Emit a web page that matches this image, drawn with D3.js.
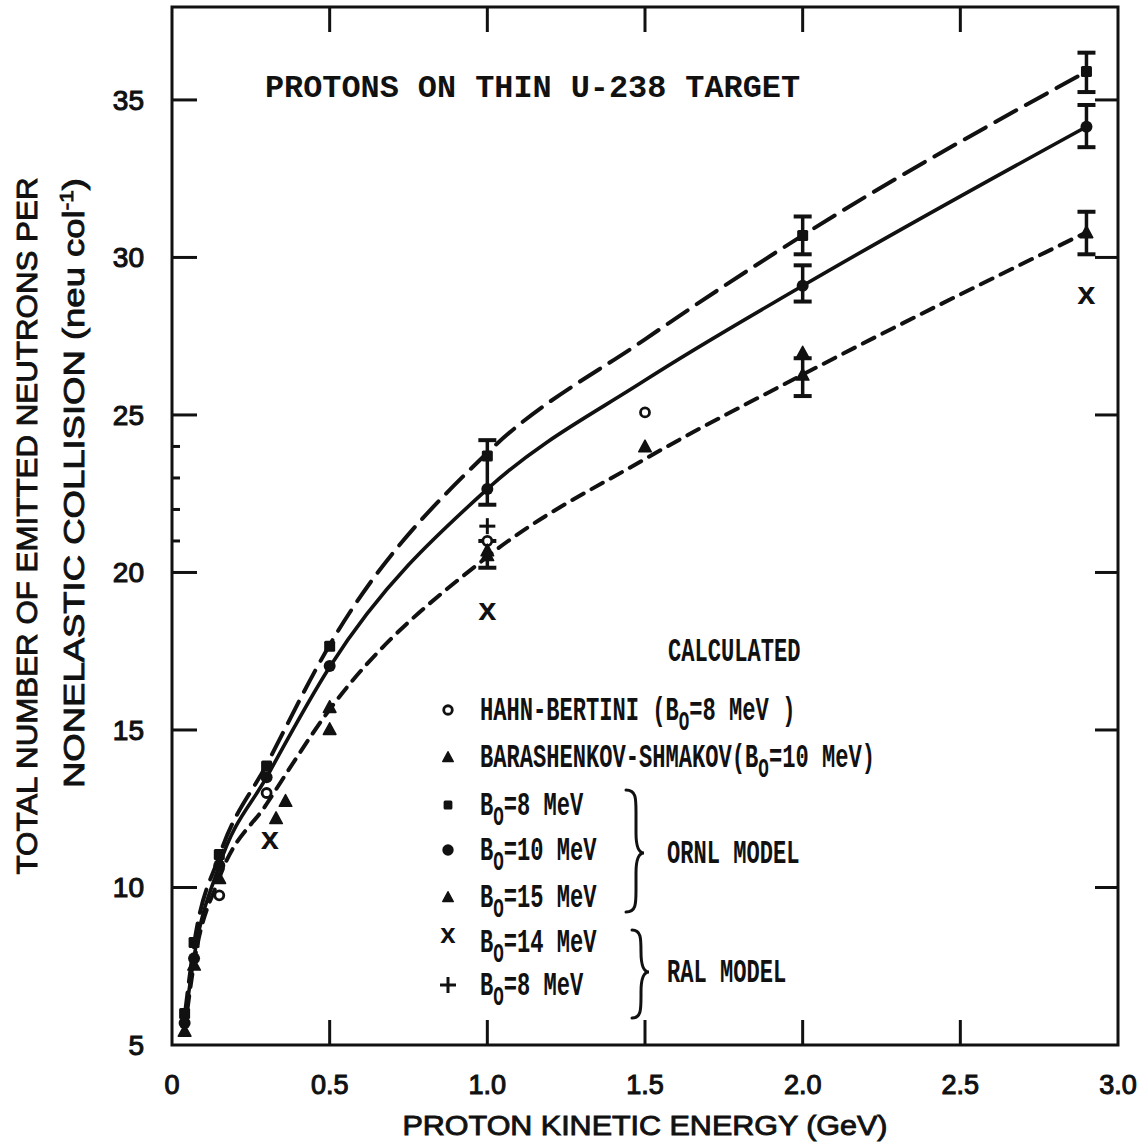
<!DOCTYPE html>
<html><head><meta charset="utf-8">
<script src="https://cdn.jsdelivr.net/npm/d3@7"></script>
<style>body{margin:0;background:#fff}</style>
</head><body><svg id="c" width="1148" height="1142"></svg>
<script>
// ---- data ----
const xTicks = [0, 0.5, 1.0, 1.5, 2.0, 2.5, 3.0];
const xTickLabels = ["0", "0.5", "1.0", "1.5", "2.0", "2.5", "3.0"];
const yTicks = [5, 10, 15, 20, 25, 30, 35];
const yTickLabels = ["5", "10", "15", "20", "25", "30", "35"];
const yMinorTicks = [21, 22, 23, 24];

const curveEnergy = [0.04, 0.07, 0.15, 0.3, 0.5, 1.0, 1.5, 2.0, 2.9];
const ornlB8Curve  = [5.9, 8.2, 11.0, 13.9, 17.7, 23.8, 27.4, 30.7, 35.9];
const ornlB10Curve = [5.7, 7.8, 10.7, 13.5, 17.0, 22.65, 26.1, 29.1, 34.15];
const ornlB15Curve = [5.45, 7.6, 10.3, 12.65, 15.65, 20.5, 23.6, 26.28, 30.8];

const ornlB8Points  = [[0.04, 6.0], [0.07, 8.25], [0.15, 11.05], [0.3, 13.86], [0.5, 17.66], [1.0, 23.7], [2.0, 30.7], [2.9, 35.9]];
const ornlB10Points = [[0.04, 5.7], [0.07, 7.75], [0.15, 10.7], [0.3, 13.5], [0.5, 17.03], [1.0, 22.65], [2.0, 29.1], [2.9, 34.15]];
const ornlB15Points = [[0.04, 5.45], [0.07, 7.55], [0.15, 10.3], [0.33, 12.2], [0.5, 15.73], [1.0, 20.55], [2.0, 26.28], [2.9, 30.8]];
const hahnBertiniPoints = [[0.15, 9.75], [0.3, 13.0], [1.0, 21.0], [1.5, 25.08]];
const barashenkovPoints = [[0.36, 12.75], [0.5, 15.03], [1.0, 20.7], [1.5, 24.0], [2.0, 26.98]];
const ralB14Points = [[0.31, 11.45], [1.0, 18.7], [2.9, 28.76]];
const ralB8Points = [[1.0, 21.47]];

const errorBars = [[1.0, 22.15, 24.2], [1.0, 20.15, 21.0], [2.0, 30.1, 31.3], [2.0, 28.6, 29.75], [2.0, 25.6, 26.8], [2.9, 35.25, 36.5], [2.9, 33.5, 34.84], [2.9, 30.1, 31.45]];

const titleText = "PROTONS ON THIN U-238 TARGET";
const xTitle = "PROTON KINETIC ENERGY (GeV)";
const yTitle1 = "TOTAL NUMBER OF EMITTED NEUTRONS PER";
const yTitle2a = "NONELASTIC COLLISION (neu col";
const yTitle2sup = "-1";
const legendHeader = "CALCULATED";
const legendRows = [
  {marker: "open", pre: "HAHN-BERTINI (B", sub: "O", post: "=8 MeV )"},
  {marker: "tri", pre: "BARASHENKOV-SHMAKOV(B", sub: "O", post: "=10 MeV)"},
  {marker: "square", pre: "B", sub: "O", post: "=8 MeV"},
  {marker: "dot", pre: "B", sub: "O", post: "=10 MeV"},
  {marker: "tri", pre: "B", sub: "O", post: "=15 MeV"},
  {marker: "x", pre: "B", sub: "O", post: "=14 MeV"},
  {marker: "plus", pre: "B", sub: "O", post: "=8 MeV"}
];
const groupLabels = ["ORNL MODEL", "RAL MODEL"];

// ---- drawing ----
const svg = d3.select("#c");
const x = d3.scaleLinear().domain([0, 3]).range([172, 1118]);
const y = d3.scaleLinear().domain([5, 37.95]).range([1045, 7]);
const ink = "#111";
const sans = "'Liberation Sans', Arial, sans-serif";
const mono = "'Liberation Mono', 'Courier New', monospace";

// frame
svg.append("rect").attr("x", x(0)).attr("y", y(37.95))
  .attr("width", x(3) - x(0)).attr("height", y(5) - y(37.95))
  .attr("fill", "none").attr("stroke", ink).attr("stroke-width", 3);

// ticks (inward)
const inner = xTicks.filter(d => d > 0 && d < 3);
const innerY = yTicks.filter(d => d > 5);
const tk = svg.append("g").attr("stroke", ink).attr("stroke-width", 3);
inner.forEach(d => {
  tk.append("line").attr("x1", x(d)).attr("x2", x(d)).attr("y1", y(5)).attr("y2", y(5) - 25);
  tk.append("line").attr("x1", x(d)).attr("x2", x(d)).attr("y1", y(37.95)).attr("y2", y(37.95) + 25);
});
innerY.forEach(d => {
  tk.append("line").attr("x1", x(0)).attr("x2", x(0) + 25).attr("y1", y(d)).attr("y2", y(d));
  tk.append("line").attr("x1", x(3)).attr("x2", x(3) - 23).attr("y1", y(d)).attr("y2", y(d));
});
yMinorTicks.forEach(d => {
  tk.append("line").attr("x1", x(0)).attr("x2", x(0) + 8).attr("y1", y(d)).attr("y2", y(d));
});

// tick labels
svg.append("g").selectAll("text").data(xTicks).join("text")
  .attr("x", d => x(d)).attr("y", 1094).attr("text-anchor", "middle")
  .attr("font-family", sans).attr("font-size", 27).attr("fill", ink)
  .attr("stroke", ink).attr("stroke-width", 1.1)
  .text((d, i) => xTickLabels[i]);
svg.append("g").selectAll("text").data(yTicks).join("text")
  .attr("x", 144).attr("y", d => y(d) + 10).attr("text-anchor", "end")
  .attr("font-family", sans).attr("font-size", 28).attr("fill", ink)
  .attr("stroke", ink).attr("stroke-width", 1.1)
  .text((d, i) => yTickLabels[i]);

// axis titles
svg.append("text").attr("x", 645).attr("y", 1135).attr("text-anchor", "middle")
  .attr("font-family", sans).attr("font-size", 27).attr("fill", ink)
  .attr("stroke", ink).attr("stroke-width", 0.9)
  .attr("textLength", 485).attr("lengthAdjust", "spacingAndGlyphs").text(xTitle);
svg.append("text").attr("transform", "translate(37,526) rotate(-90)").attr("text-anchor", "middle")
  .attr("font-family", sans).attr("font-size", 29).attr("fill", ink)
  .attr("stroke", ink).attr("stroke-width", 0.9)
  .attr("textLength", 697).attr("lengthAdjust", "spacingAndGlyphs").text(yTitle1);
const yt2 = svg.append("text").attr("transform", "translate(84,483) rotate(-90)").attr("text-anchor", "middle")
  .attr("font-family", sans).attr("font-size", 29).attr("fill", ink)
  .attr("stroke", ink).attr("stroke-width", 0.9)
  .attr("textLength", 610).attr("lengthAdjust", "spacingAndGlyphs");
yt2.append("tspan").text(yTitle2a);
yt2.append("tspan").attr("font-size", 18).attr("dy", -11).text(yTitle2sup);
yt2.append("tspan").attr("dy", 11).text(")");

// title
svg.append("text").attr("x", 265).attr("y", 97)
  .attr("font-family", mono).attr("font-weight", "bold").attr("font-size", 32).attr("fill", ink)
  .attr("textLength", 535).attr("lengthAdjust", "spacingAndGlyphs").text(titleText);

// curves
const line = d3.line().x(d => x(d[0])).y(d => y(d[1])).curve(d3.curveMonotoneX);
const curves = [
  {vals: ornlB8Curve, dash: "24,11", w: 4},
  {vals: ornlB10Curve, dash: null, w: 3.6},
  {vals: ornlB15Curve, dash: "13,9", w: 4}
];
curves.forEach(c => {
  svg.append("path").datum(curveEnergy.map((e, i) => [e, c.vals[i]]))
    .attr("d", line).attr("fill", "none").attr("stroke", ink)
    .attr("stroke-width", c.w).attr("stroke-dasharray", c.dash).attr("stroke-linecap", "round");
});

// error bars
const eb = svg.append("g").attr("stroke", ink).attr("stroke-width", 4);
errorBars.forEach(([e, lo, hi]) => {
  eb.append("line").attr("x1", x(e)).attr("x2", x(e)).attr("y1", y(lo)).attr("y2", y(hi)).attr("stroke-width", 3.5);
  [lo, hi].forEach(v => eb.append("line").attr("x1", x(e) - 9).attr("x2", x(e) + 9).attr("y1", y(v)).attr("y2", y(v)));
});

// markers
function marker(g, type, cx, cy, s) {
  s = s || 1;
  if (type === "square") g.append("rect").attr("x", cx - 5.5 * s).attr("y", cy - 5.5 * s).attr("width", 11 * s).attr("height", 11 * s).attr("rx", 1.5).attr("fill", ink);
  else if (type === "dot") g.append("circle").attr("cx", cx).attr("cy", cy).attr("r", 6 * s).attr("fill", ink);
  else if (type === "open") g.append("circle").attr("cx", cx).attr("cy", cy).attr("r", 4.5 * s).attr("fill", "#fff").attr("stroke", ink).attr("stroke-width", 2.8);
  else if (type === "tri") g.append("path").attr("d", `M${cx},${cy - 7 * s}L${cx + 7 * s},${cy + 6 * s}L${cx - 7 * s},${cy + 6 * s}Z`).attr("fill", ink).attr("stroke", ink).attr("stroke-width", 1.5).attr("stroke-linejoin", "round");
  else if (type === "x") g.append("text").attr("x", cx).attr("y", cy + 7).attr("text-anchor", "middle").attr("font-family", mono).attr("font-weight", "bold").attr("font-size", 32 * s).attr("fill", ink).text("x");
  else if (type === "plus") {
    g.append("line").attr("x1", cx - 8).attr("x2", cx + 8).attr("y1", cy).attr("y2", cy).attr("stroke", ink).attr("stroke-width", 3);
    g.append("line").attr("x1", cx).attr("x2", cx).attr("y1", cy - 8).attr("y2", cy + 8).attr("stroke", ink).attr("stroke-width", 3);
  }
}
const mk = svg.append("g");
[[ornlB8Points, "square"], [ornlB10Points, "dot"], [ornlB15Points, "tri"], [hahnBertiniPoints, "open"],
 [barashenkovPoints, "tri"], [ralB14Points, "x"], [ralB8Points, "plus"]].forEach(([pts, t]) => {
  pts.forEach(p => marker(mk, t, x(p[0]), y(p[1]), t === "tri" ? 0.9 : 1));
});

// legend
const lg = svg.append("g");
const sx = 0.65;
function legendText(tx, ty, build) {
  const g = lg.append("g").attr("transform", `translate(${tx},${ty}) scale(${sx},1)`);
  const t = g.append("text").attr("x", 0).attr("y", 0)
    .attr("font-family", mono).attr("font-weight", "bold").attr("font-size", 34).attr("fill", ink);
  build(t);
}
legendText(668, 661, t => t.text(legendHeader));
const rowY = [710, 757, 805, 850, 897, 942, 985];
legendRows.forEach((r, i) => {
  legendText(480, rowY[i] + 10, t => {
    t.append("tspan").text(r.pre);
    t.append("tspan").attr("font-size", 27).attr("dy", 10).text(r.sub);
    t.append("tspan").attr("dy", -10).text(r.post);
  });
  const my = r.marker === "x" ? rowY[i] - 6 : rowY[i];
  marker(lg, r.marker, 448, my, r.marker === "tri" ? 0.75 : (r.marker === "square" ? 0.8 : (r.marker === "x" ? 0.85 : 0.95)));
});
legendText(667, 863, t => t.text(groupLabels[0]));
legendText(667, 982, t => t.text(groupLabels[1]));

// braces
function brace(xl, xm, xt, y0, ym, y1) {
  const d = `M${xl},${y0} C${xm},${y0} ${xm},${y0 + 8} ${xm},${y0 + 22} L${xm},${ym - 20} C${xm},${ym - 6} ${xm + 3},${ym} ${xt},${ym}` +
            ` C${xm + 3},${ym} ${xm},${ym + 6} ${xm},${ym + 20} L${xm},${y1 - 22} C${xm},${y1 - 8} ${xm},${y1} ${xl},${y1}`;
  lg.append("path").attr("d", d).attr("fill", "none").attr("stroke", ink).attr("stroke-width", 3).attr("stroke-linecap", "round");
}
brace(626, 636, 644, 790, 853, 912);
brace(632, 641, 649, 930, 972, 1018);
</script></body></html>
